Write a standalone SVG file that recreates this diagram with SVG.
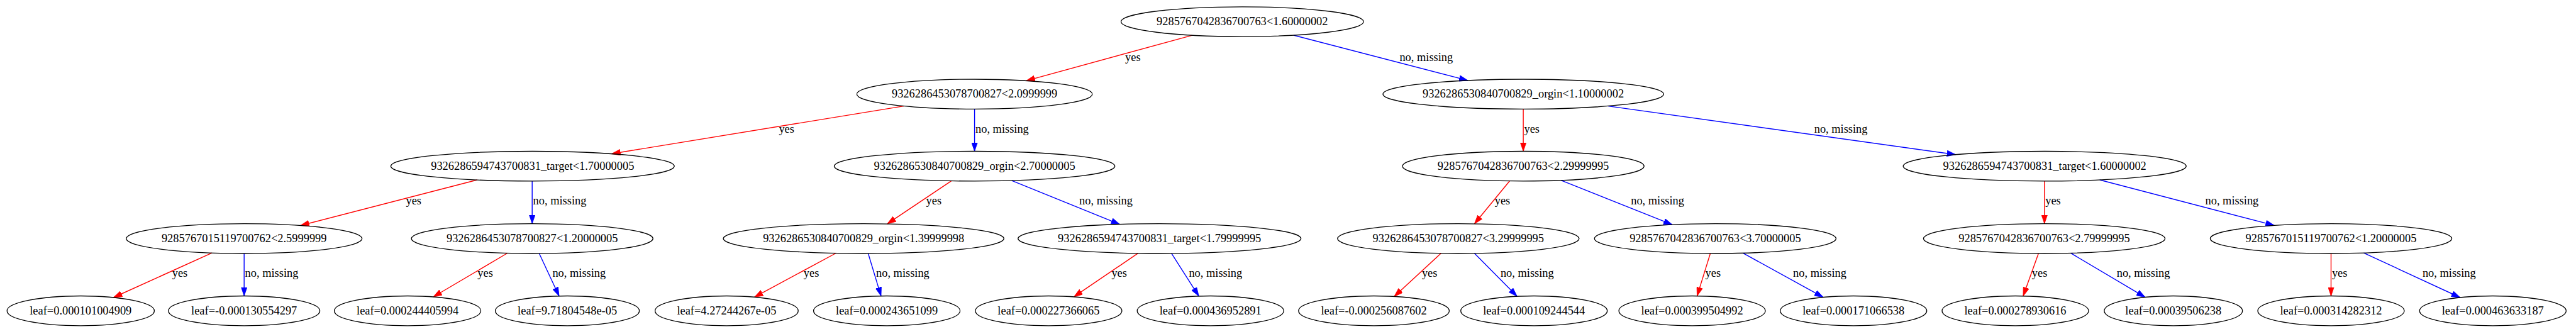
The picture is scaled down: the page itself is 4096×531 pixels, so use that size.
<svg xmlns="http://www.w3.org/2000/svg" width="4096" height="531" viewBox="0 0 4096 531">
<style>
.n ellipse{fill:none;stroke:#000;stroke-width:1.3}
.n text,.lbl{font-family:"Liberation Serif","Times New Roman",serif;font-size:18.4px;fill:#000}
.n text{text-anchor:middle}
.y{stroke:#FF0000;stroke-width:1.4;fill:none;marker-end:url(#ar)}
.no{stroke:#0000FF;stroke-width:1.4;fill:none;marker-end:url(#ab)}
</style>
<defs>
<marker id="ar" markerUnits="userSpaceOnUse" markerWidth="14" markerHeight="10" refX="14" refY="5" orient="auto"><path d="M0,0.25 L14,5 L0,9.75 Z" fill="#FF0000" stroke="#FF0000" stroke-width="0.8"/></marker>
<marker id="ab" markerUnits="userSpaceOnUse" markerWidth="14" markerHeight="10" refX="14" refY="5" orient="auto"><path d="M0,0.25 L14,5 L0,9.75 Z" fill="#0000FF" stroke="#0000FF" stroke-width="0.8"/></marker>
</defs>
<rect width="4096" height="531" fill="#fff"/>
<g id="connectors">
<line class="y" x1="1895.7" y1="56.1" x2="1631.8" y2="128.4"/><text class="lbl" x="1789.1" y="97.4">yes</text>
<line class="no" x1="2056.9" y1="56.0" x2="2333.9" y2="127.9"/><text class="lbl" x="2225.4" y="97.4">no, missing</text>
<line class="y" x1="1437.1" y1="168.6" x2="972.5" y2="244.5"/><text class="lbl" x="1238.4" y="211.2">yes</text>
<line class="no" x1="1549.6" y1="173.4" x2="1549.6" y2="240.5"/><text class="lbl" x="1551" y="211.2">no, missing</text>
<line class="y" x1="2422.1" y1="173.4" x2="2422.1" y2="240.5"/><text class="lbl" x="2423.5" y="211.2">yes</text>
<line class="no" x1="2557.0" y1="168.6" x2="3109.7" y2="245.8"/><text class="lbl" x="2884.7" y="211.2">no, missing</text>
<line class="y" x1="758.7" y1="286.0" x2="477.7" y2="358.5"/><text class="lbl" x="645.5" y="325.1">yes</text>
<line class="no" x1="846.2" y1="287.9" x2="846.2" y2="355.6"/><text class="lbl" x="847.6" y="325.1">no, missing</text>
<line class="y" x1="1512.7" y1="287.6" x2="1410.8" y2="355.9"/><text class="lbl" x="1472.6" y="325.1">yes</text>
<line class="no" x1="1608.8" y1="287.1" x2="1780.5" y2="356.6"/><text class="lbl" x="1716.1" y="325.1">no, missing</text>
<line class="y" x1="2400.4" y1="287.7" x2="2344.5" y2="355.8"/><text class="lbl" x="2376.7" y="325.1">yes</text>
<line class="no" x1="2482.0" y1="286.7" x2="2659.0" y2="357.2"/><text class="lbl" x="2593.2" y="325.1">no, missing</text>
<line class="y" x1="3250.8" y1="287.9" x2="3250.8" y2="355.6"/><text class="lbl" x="3252.2" y="325.1">yes</text>
<line class="no" x1="3338.7" y1="286.0" x2="3616.4" y2="358.4"/><text class="lbl" x="3506.5" y="325.1">no, missing</text>
<line class="y" x1="336.9" y1="402.1" x2="180.3" y2="473.0"/><text class="lbl" x="273.7" y="440.2">yes</text>
<line class="no" x1="388.2" y1="403.0" x2="388.2" y2="470.5"/><text class="lbl" x="389.6" y="440.2">no, missing</text>
<line class="y" x1="806.7" y1="402.5" x2="688.9" y2="472.0"/><text class="lbl" x="759.3" y="440.2">yes</text>
<line class="no" x1="857.4" y1="403.0" x2="889.0" y2="470.7"/><text class="lbl" x="878.4" y="440.2">no, missing</text>
<line class="y" x1="1329.2" y1="402.5" x2="1199.5" y2="472.4"/><text class="lbl" x="1277.8" y="440.2">yes</text>
<line class="no" x1="1380.5" y1="403.0" x2="1400.9" y2="470.6"/><text class="lbl" x="1393.0" y="440.2">no, missing</text>
<line class="y" x1="1809.5" y1="402.7" x2="1707.5" y2="471.9"/><text class="lbl" x="1767.4" y="440.2">yes</text>
<line class="no" x1="1862.8" y1="402.9" x2="1906.2" y2="470.8"/><text class="lbl" x="1890.4" y="440.2">no, missing</text>
<line class="y" x1="2291.2" y1="402.8" x2="2216.8" y2="471.4"/><text class="lbl" x="2260.9" y="440.2">yes</text>
<line class="no" x1="2344.5" y1="402.8" x2="2412.2" y2="471.1"/><text class="lbl" x="2385.9" y="440.2">no, missing</text>
<line class="y" x1="2719.5" y1="403.0" x2="2698.5" y2="470.6"/><text class="lbl" x="2711.6" y="440.2">yes</text>
<line class="no" x1="2771.5" y1="402.4" x2="2899.1" y2="472.6"/><text class="lbl" x="2851.1" y="440.2">no, missing</text>
<line class="y" x1="3241.3" y1="403.0" x2="3217.0" y2="470.6"/><text class="lbl" x="3230.8" y="440.2">yes</text>
<line class="no" x1="3292.6" y1="402.4" x2="3411.1" y2="472.6"/><text class="lbl" x="3365.7" y="440.2">no, missing</text>
<line class="y" x1="3706.5" y1="403.0" x2="3706.5" y2="470.5"/><text class="lbl" x="3707.9" y="440.2">yes</text>
<line class="no" x1="3758.5" y1="402.1" x2="3911.8" y2="473.0"/><text class="lbl" x="3851.9" y="440.2">no, missing</text>
</g>
<g id="n0" class="n"><ellipse cx="1975.3" cy="34.5" rx="192.8" ry="23.7"/><text x="1975.3" y="40.0">9285767042836700763&lt;1.60000002</text></g>
<g id="n1" class="n"><ellipse cx="1549.6" cy="149.7" rx="187.2" ry="23.7"/><text x="1549.6" y="155.2">9326286453078700827&lt;2.0999999</text></g>
<g id="n2" class="n"><ellipse cx="2422.1" cy="149.7" rx="223.1" ry="23.7"/><text x="2422.1" y="155.2">9326286530840700829_orgin&lt;1.10000002</text></g>
<g id="n3" class="n"><ellipse cx="846.8" cy="264.2" rx="225.4" ry="23.7"/><text x="846.8" y="269.7">9326286594743700831_target&lt;1.70000005</text></g>
<g id="n4" class="n"><ellipse cx="1549.6" cy="264.2" rx="223.1" ry="23.7"/><text x="1549.6" y="269.7">9326286530840700829_orgin&lt;2.70000005</text></g>
<g id="n5" class="n"><ellipse cx="2422.1" cy="264.2" rx="192.1" ry="23.7"/><text x="2422.1" y="269.7">9285767042836700763&lt;2.29999995</text></g>
<g id="n6" class="n"><ellipse cx="3251.2" cy="264.2" rx="225.0" ry="23.7"/><text x="3251.2" y="269.7">9326286594743700831_target&lt;1.60000002</text></g>
<g id="n7" class="n"><ellipse cx="388.2" cy="379.3" rx="187.5" ry="23.7"/><text x="388.2" y="384.8">9285767015119700762&lt;2.5999999</text></g>
<g id="n8" class="n"><ellipse cx="846.2" cy="379.3" rx="192.1" ry="23.7"/><text x="846.2" y="384.8">9326286453078700827&lt;1.20000005</text></g>
<g id="n9" class="n"><ellipse cx="1373.2" cy="379.3" rx="223.1" ry="23.7"/><text x="1373.2" y="384.8">9326286530840700829_orgin&lt;1.39999998</text></g>
<g id="n10" class="n"><ellipse cx="1843.7" cy="379.3" rx="225.0" ry="23.7"/><text x="1843.7" y="384.8">9326286594743700831_target&lt;1.79999995</text></g>
<g id="n11" class="n"><ellipse cx="2318.8" cy="379.3" rx="192.1" ry="23.7"/><text x="2318.8" y="384.8">9326286453078700827&lt;3.29999995</text></g>
<g id="n12" class="n"><ellipse cx="2727.4" cy="379.3" rx="192.1" ry="23.7"/><text x="2727.4" y="384.8">9285767042836700763&lt;3.70000005</text></g>
<g id="n13" class="n"><ellipse cx="3250.5" cy="379.3" rx="192.1" ry="23.7"/><text x="3250.5" y="384.8">9285767042836700763&lt;2.79999995</text></g>
<g id="n14" class="n"><ellipse cx="3706.5" cy="379.3" rx="192.1" ry="23.7"/><text x="3706.5" y="384.8">9285767015119700762&lt;1.20000005</text></g>
<g id="l1" class="n"><ellipse cx="128.3" cy="494.2" rx="117.1" ry="23.7"/><text x="128.3" y="499.7">leaf=0.000101004909</text></g>
<g id="l2" class="n"><ellipse cx="388.2" cy="494.2" rx="120.4" ry="23.7"/><text x="388.2" y="499.7">leaf=-0.000130554297</text></g>
<g id="l3" class="n"><ellipse cx="648.1" cy="494.2" rx="116.5" ry="23.7"/><text x="648.1" y="499.7">leaf=0.000244405994</text></g>
<g id="l4" class="n"><ellipse cx="902.1" cy="494.2" rx="114.5" ry="23.7"/><text x="902.1" y="499.7">leaf=9.71804548e-05</text></g>
<g id="l5" class="n"><ellipse cx="1155.4" cy="494.2" rx="113.8" ry="23.7"/><text x="1155.4" y="499.7">leaf=4.27244267e-05</text></g>
<g id="l6" class="n"><ellipse cx="1410.1" cy="494.2" rx="116.5" ry="23.7"/><text x="1410.1" y="499.7">leaf=0.000243651099</text></g>
<g id="l7" class="n"><ellipse cx="1667.4" cy="494.2" rx="116.5" ry="23.7"/><text x="1667.4" y="499.7">leaf=0.000227366065</text></g>
<g id="l8" class="n"><ellipse cx="1924.7" cy="494.2" rx="116.5" ry="23.7"/><text x="1924.7" y="499.7">leaf=0.000436952891</text></g>
<g id="l9" class="n"><ellipse cx="2184.6" cy="494.2" rx="119.8" ry="23.7"/><text x="2184.6" y="499.7">leaf=-0.000256087602</text></g>
<g id="l10" class="n"><ellipse cx="2439.2" cy="494.2" rx="116.5" ry="23.7"/><text x="2439.2" y="499.7">leaf=0.000109244544</text></g>
<g id="l11" class="n"><ellipse cx="2690.6" cy="494.2" rx="116.5" ry="23.7"/><text x="2690.6" y="499.7">leaf=0.000399504992</text></g>
<g id="l12" class="n"><ellipse cx="2947.2" cy="494.2" rx="116.5" ry="23.7"/><text x="2947.2" y="499.7">leaf=0.000171066538</text></g>
<g id="l13" class="n"><ellipse cx="3204.5" cy="494.2" rx="116.5" ry="23.7"/><text x="3204.5" y="499.7">leaf=0.000278930616</text></g>
<g id="l14" class="n"><ellipse cx="3455.8" cy="494.2" rx="109.9" ry="23.7"/><text x="3455.8" y="499.7">leaf=0.00039506238</text></g>
<g id="l15" class="n"><ellipse cx="3706.5" cy="494.2" rx="116.5" ry="23.7"/><text x="3706.5" y="499.7">leaf=0.000314282312</text></g>
<g id="l16" class="n"><ellipse cx="3963.8" cy="494.2" rx="116.5" ry="23.7"/><text x="3963.8" y="499.7">leaf=0.000463633187</text></g>
</svg>
